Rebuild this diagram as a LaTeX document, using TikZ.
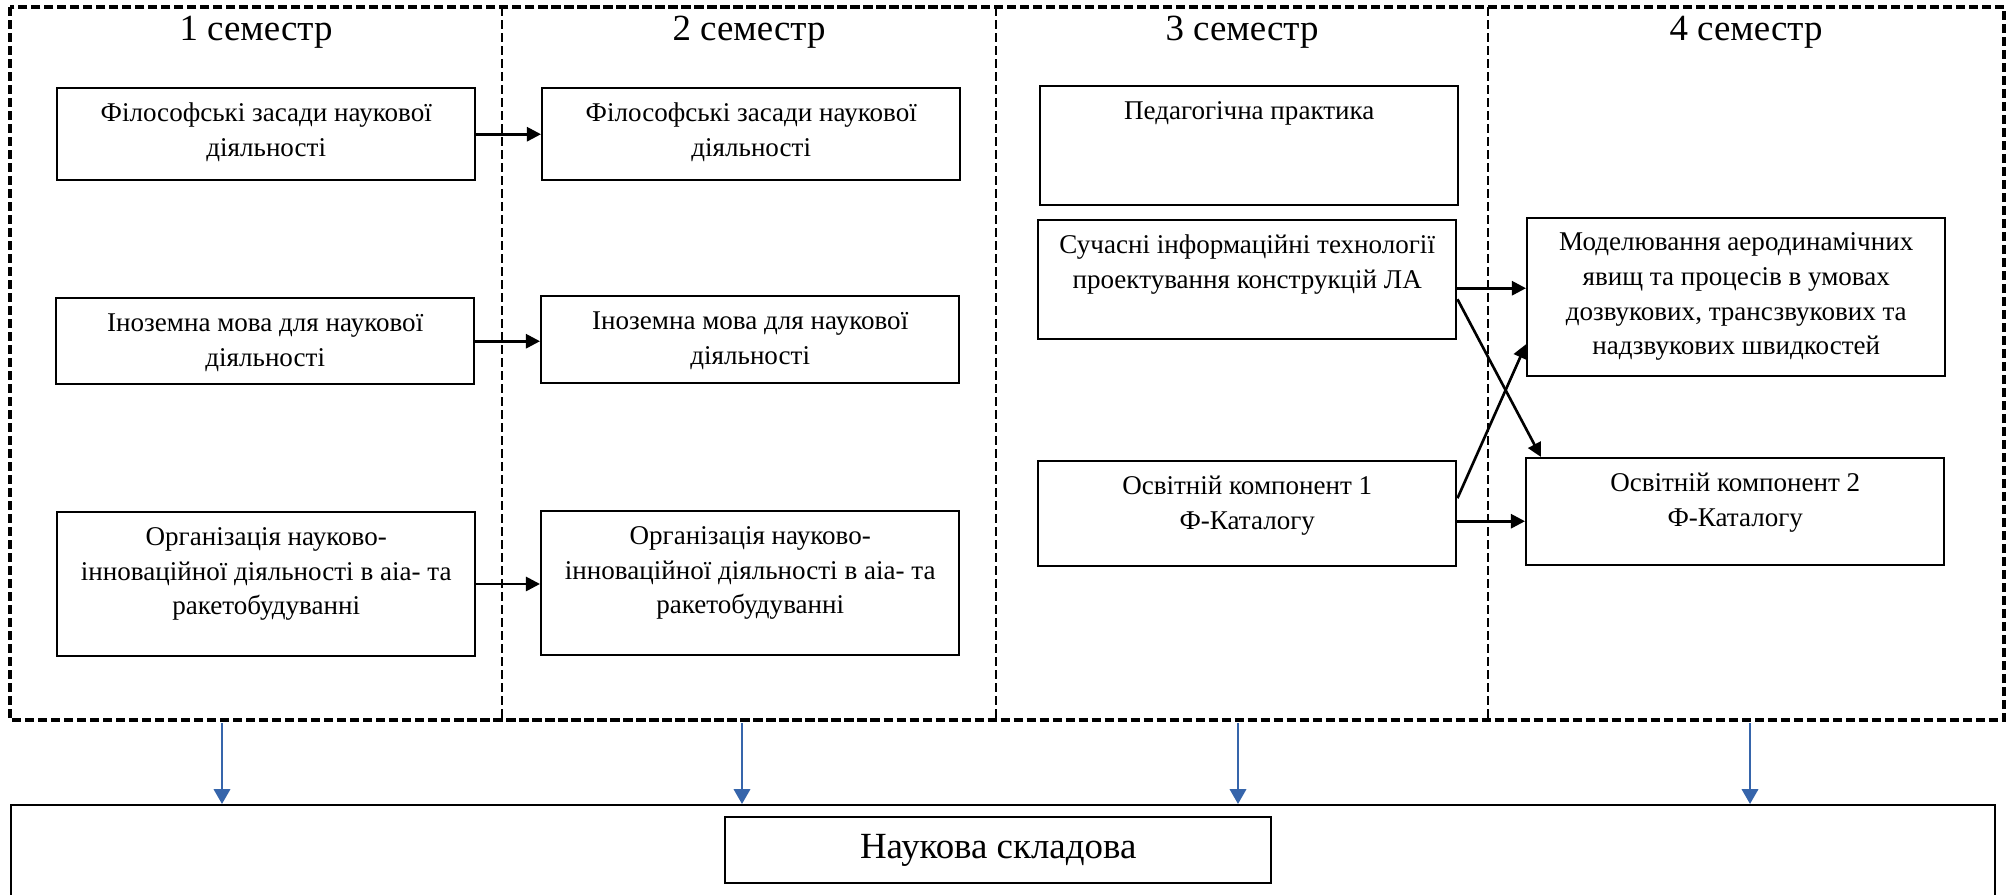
\documentclass[tikz,border=0pt]{standalone}
\usepackage{fontspec}
\setmainfont{Liberation Serif}
\usepackage{tikz}
\usetikzlibrary{arrows.meta}
\usetikzlibrary{positioning}
\definecolor{arrowblue}{RGB}{54,101,171}
\newcommand{\boxtext}[2]{\parbox[c][#1][t]{4.18cm}{\centering\fontsize{7.7}{9.85}\selectfont\vspace*{0.09cm}\strut #2}}

\begin{document}
\begin{tikzpicture}[
	course/.style={draw,line width=0.7pt,inner sep=0pt,anchor=north west},
	semframe/.style={line width=#1,dash pattern=on 2.6pt off 1.1pt},
	semhead/.style={font=\fontsize{10.5}{12}\selectfont},
	arr/.style={-{Triangle[length=4pt,width=4pt]},line width=0.75pt},
	bluearr/.style={-{Triangle[length=4.2pt,width=4.6pt]},arrowblue,line width=0.75pt}]
		\useasboundingbox (0,0) rectangle (20.09,8.94);
		%semester frames
		\draw[semframe=1.1pt] (0.10,8.87) rectangle (20.04,1.74);
		\draw[semframe=0.8pt] (5.02,8.87) -- (5.02,1.74);
		\draw[semframe=0.8pt] (9.96,8.87) -- (9.96,1.74);
		\draw[semframe=0.8pt] (14.88,8.87) -- (14.88,1.74);
		\node[semhead] (h1) at (2.56,8.62) {1 семестр};
		\node[semhead] (h2) at (7.49,8.62) {2 семестр};
		\node[semhead] (h3) at (12.42,8.62) {3 семестр};
		\node[semhead] (h4) at (17.46,8.62) {4 семестр};
		%1 semester
		\node[course] (fil1) at (0.56,8.07) {\boxtext{0.92cm}{Філософські засади наукової\\ діяльності}};
		\node[course] (mova1) at (0.55,5.97) {\boxtext{0.86cm}{Іноземна мова для наукової\\ діяльності}};
		\node[course] (org1) at (0.56,3.83) {\boxtext{1.435cm}{Організація науково-\\ інноваційної діяльності в аіа- та\\ ракетобудуванні}};
		%2 semester
		\node[course] (fil2) at (5.41,8.07) {\boxtext{0.92cm}{Філософські засади наукової\\ діяльності}};
		\node[course] (mova2) at (5.40,5.99) {\boxtext{0.87cm}{Іноземна мова для наукової\\ діяльності}};
		\node[course] (org2) at (5.40,3.84) {\boxtext{1.435cm}{Організація науково-\\ інноваційної діяльності в аіа- та\\ ракетобудуванні}};
		%3 semester
		\node[course] (ped) at (10.39,8.09) {\boxtext{1.19cm}{Педагогічна практика}};
		\node[course] (it) at (10.37,6.75) {\boxtext{1.19cm}{Сучасні інформаційні технології\\ проектування конструкцій ЛА}};
		\node[course] (osv1) at (10.37,4.34) {\boxtext{1.05cm}{Освітній компонент 1\\ Ф-Каталогу}};
		%4 semester
		\node[course] (model) at (15.26,6.775) {\boxtext{1.58cm}{Моделювання аеродинамічних\\ явищ та процесів в умовах\\ дозвукових, трансзвукових та\\ надзвукових швидкостей}};
		\node[course] (osv2) at (15.25,4.37) {\boxtext{1.065cm}{Освітній компонент 2\\ Ф-Каталогу}};
		%links between semesters
		\draw[arr] (fil1.east) -- (fil2.west);
		\draw[arr] (mova1.east) -- (mova1.east -| mova2.west);
		\draw[arr] (org1.east) -- (org1.east -| org2.west);
		\draw[arr] ([yshift=-0.085cm]it.east) -- ([yshift=-0.085cm]it.east -| model.west);
		\draw[arr] ([yshift=-0.195cm]it.east) -- ([xshift=0.16cm]osv2.north west);
		\draw[arr] ([yshift=0.155cm]osv1.east) -- ([yshift=-0.475cm]model.west);
		\draw[arr] ([yshift=-0.075cm]osv1.east) -- ([yshift=-0.075cm]osv1.east -| osv2.west);
		%research part
		\node[draw,line width=0.7pt,anchor=north west,minimum width=19.84cm,minimum height=1.1cm] (sci) at (0.10,0.90) {};
		\node[draw,line width=0.7pt,anchor=north west,minimum width=5.46cm,minimum height=0.66cm,font=\fontsize{10.5}{12}\selectfont] (scitext) at (7.24,0.78) {Наукова складова};
		\coordinate (s1) at (2.22,1.71);
		\coordinate (s2) at (7.42,1.71);
		\coordinate (s3) at (12.38,1.71);
		\coordinate (s4) at (17.50,1.71);
		\foreach \s in {s1,s2,s3,s4}
			\draw[bluearr] (\s) -- (\s |- sci.north);
	\end{tikzpicture}
\end{document}
